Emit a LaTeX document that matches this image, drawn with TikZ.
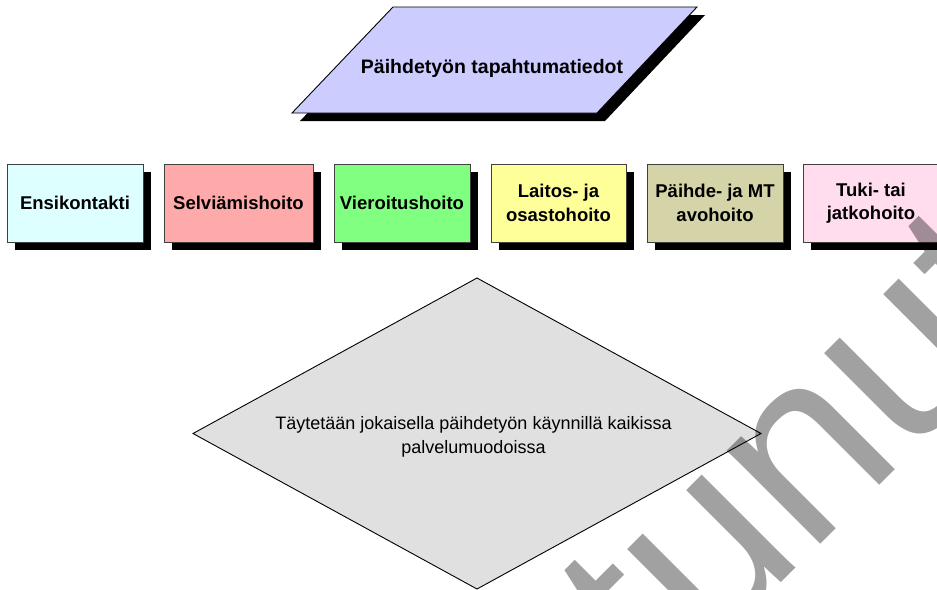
\documentclass[tikz,border=0pt]{standalone}
\usepackage{fontspec}
\setmainfont{Liberation Sans}
\definecolor{parafill}{HTML}{CCCCFF}
\definecolor{ensifill}{HTML}{DDFFFF}
\definecolor{selvfill}{HTML}{FFAAAA}
\definecolor{vierfill}{HTML}{80FF80}
\definecolor{laitfill}{HTML}{FFFF99}
\definecolor{avofill}{HTML}{D4D4A8}
\definecolor{tukifill}{HTML}{FFDDEE}
\definecolor{diafill}{HTML}{E0E0E0}
\definecolor{boxline}{HTML}{404040}
\begin{document}
\begin{tikzpicture}[x=1pt,y=-1pt,
  dropshadow/.style={preaction={fill=black,
      transform canvas={shift={(#1,-#1)}}}},
  dropshadow/.default=7.5pt,
  stepbox/.style={draw=boxline, line width=0.8pt, dropshadow,
      minimum width=136pt, minimum height=78pt, inner sep=0pt,
      align=center, font=\fontsize{18.5}{23.3}\selectfont\bfseries},
  shapeline/.style={draw=black, line width=0.9pt},
  wmark/.style={inner sep=0pt, text=black, text opacity=0.37,
      font=\fontsize{250}{300}\selectfont}
]
\useasboundingbox (0,0) rectangle (937,589);
\clip (0,0) rectangle (937,589);

% data parallelogram
\coordinate (pa) at (393,7);
\coordinate (pb) at (697,7);
\coordinate (pc) at (597,113);
\coordinate (pd) at (292,113);
\path[shapeline, fill=parafill, dropshadow=8pt] (pa) -- (pb) -- (pc) -- (pd) -- cycle;
\node[anchor=base, inner sep=0pt, font=\fontsize{19.5}{23}\selectfont\bfseries]
  (tapahtumat) at (492,73) {Päihdetyön tapahtumatiedot};

% service forms
\node[stepbox, fill=ensifill] (ensi) at (75,203) {Ensikontakti};
\node[stepbox, fill=selvfill, minimum width=149pt] (selv) at (238.5,203) {Selviämishoito};
\node[stepbox, fill=vierfill] (vier) at (402,203) {Vieroitushoito};
\node[stepbox, fill=laitfill, minimum width=135pt] (lait) at (558.5,203) {Laitos- ja\\osastohoito};
\node[stepbox, fill=avofill] (avo) at (715,203) {Päihde- ja MT\\avohoito};
\node[stepbox, fill=tukifill] (tuki) at (871,203) {Tuki- tai\\jatkohoito};

% decision diamond
\coordinate (dl) at (193,433.5);
\coordinate (dt) at (477,278);
\coordinate (dr) at (761,433.5);
\coordinate (db) at (477,589);
\path[shapeline, fill=diafill] (dl) -- (dt) -- (dr) -- (db) -- cycle;
\node[align=center, inner sep=0pt, font=\fontsize{18}{24}\selectfont]
  (ohje) at (473.5,437) {Täytetään jokaisella päihdetyön käynnillä kaikissa\\palvelumuodoissa};

% watermark
\node[wmark, anchor=base east, rotate=45] (leima) at (1054,310.5) {Vanhentunut};
\end{tikzpicture}
\end{document}
